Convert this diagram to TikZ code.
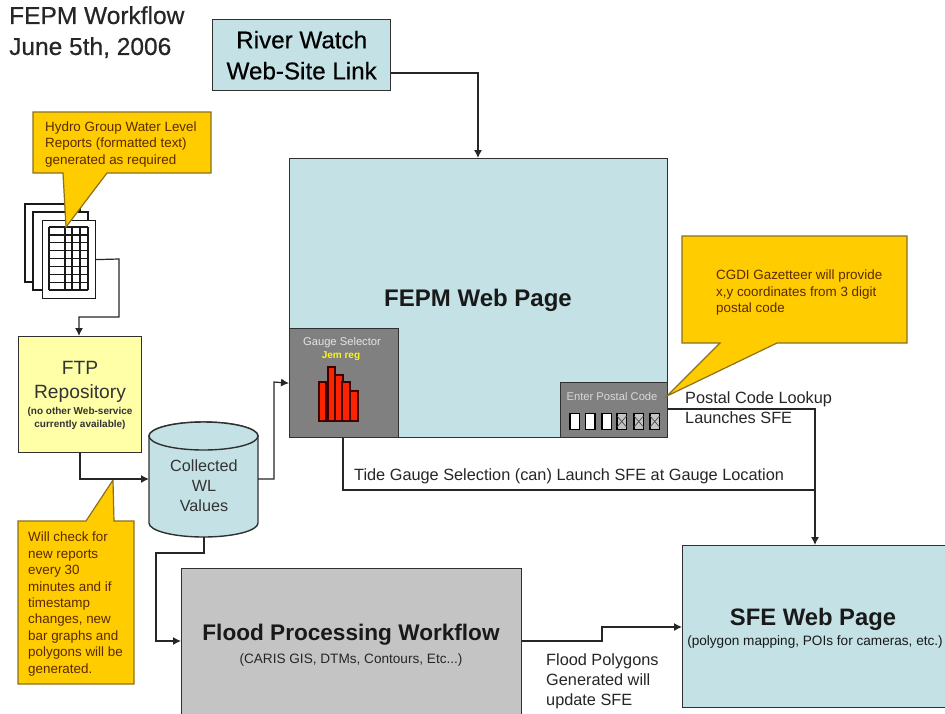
\documentclass[tikz,border=0pt]{standalone}
\usepackage{fontspec}
\setmainfont{Liberation Sans}
\newfontfamily\semibold[FakeBold=0.5]{Liberation Sans}
\usetikzlibrary{arrows.meta,shapes.geometric}
\definecolor{paleblue}{HTML}{C4E2E6}
\definecolor{callout}{HTML}{FFCC00}
\definecolor{calloutedge}{HTML}{8A7020}
\definecolor{callouttext}{HTML}{5A2A00}
\definecolor{paleyellow}{HTML}{FFFFA8}
\definecolor{midgrey}{HTML}{808080}
\definecolor{lightgrey}{HTML}{C4C4C4}
\definecolor{barred}{HTML}{FA2400}
\definecolor{linegrey}{HTML}{303030}
\tikzset{
  box/.style={draw=linegrey,line width=1.4pt,inner sep=0pt,anchor=north west,align=center},
  conn/.style={draw=black!85,line width=1.2pt,-{Latex[length=8pt,width=8pt]}},
  plain/.style={draw=black!85,line width=1.2pt},
  calloutshape/.style={fill=callout,draw=calloutedge,line width=1.2pt,line join=miter},
  small/.style={font=\fontsize{13.4}{16.4}\selectfont,text=callouttext,align=left,anchor=north west,inner sep=0pt},
  lab/.style={font=\fontsize{16.3}{20}\selectfont,align=left,anchor=north west,inner sep=0pt,text=black!85},
  page/.style={draw=black!90,line width=1.2pt,fill=white},
}
\begin{document}
\begin{tikzpicture}[x=1pt,y=-1pt]
\useasboundingbox (0,0) rectangle (945,713);
\fill[white] (0,0) rectangle (945,713);

% title
\node[lab,font=\fontsize{24.5}{31}\selectfont\semibold] (title) at (9,6) {FEPM Workflow\\June 5th, 2006};

% main boxes
\node[box,fill=paleblue,minimum width=178pt,minimum height=71pt,font=\fontsize{24.2}{31}\selectfont\semibold] (river) at (212,19) {River Watch\\Web-Site Link};
\node[box,fill=paleblue,minimum width=378pt,minimum height=279pt] (fepm) at (289,158) {};
\node[font=\fontsize{24}{28}\selectfont\bfseries,text=black!90,inner sep=0pt] (fepmlabel) at (478,300) {FEPM Web Page};
\node[box,fill=midgrey,minimum width=109pt,minimum height=109pt] (gauge) at (289,328) {};
\node[box,fill=midgrey,minimum width=107pt,minimum height=55pt] (postal) at (560,382) {};
\node[box,fill=paleyellow,minimum width=123pt,minimum height=116pt] (ftp) at (18,336) {};
\node[box,fill=lightgrey,minimum width=340pt,minimum height=160pt] (flood) at (181,568) {};
\node[box,fill=paleblue,minimum width=263pt,minimum height=162pt] (sfe) at (682,545) {};

% box texts
\node[font=\fontsize{19.2}{23.5}\selectfont,text=black!80,align=center,inner sep=0pt] (ftptext) at (80,382) {FTP\\Repository};
\node[font=\fontsize{10}{13}\selectfont\bfseries,text=black!80,align=center,inner sep=0pt] (ftpsub) at (80,418) {(no other Web-service\\currently available)};
\node[font=\fontsize{22.6}{28}\selectfont\bfseries,inner sep=0pt,text=black!90] (floodtext) at (351,635) {Flood Processing Workflow};
\node[font=\fontsize{13.6}{15}\selectfont,inner sep=0pt,text=black!85] (floodsub) at (351,660) {(CARIS GIS, DTMs, Contours, Etc...)};
\node[font=\fontsize{23.8}{28}\selectfont\bfseries,inner sep=0pt,text=black!90] (sfetext) at (813,619) {SFE Web Page};
\node[font=\fontsize{13.6}{14}\selectfont,inner sep=0pt,text=black!90] (sfesub) at (815,642) {(polygon mapping, POIs for cameras, etc.)};

% cylinder
\path[fill=paleblue,draw=linegrey,line width=1.4pt] (149,436) -- (149,523) arc[start angle=180,end angle=0,x radius=54.5pt,y radius=-14pt] -- (258,436) arc[start angle=0,end angle=180,x radius=54.5pt,y radius=14pt] -- cycle;
\draw[draw=linegrey,line width=1.4pt,fill=paleblue] (203.5,436) ellipse[x radius=54.5pt,y radius=14pt];
\coordinate (cylw) at (149,479);
\coordinate (cyle) at (258,479);
\coordinate (cyls) at (204,537);
\node[font=\fontsize{16.2}{20}\selectfont,align=center,inner sep=0pt,text=black!80] (cyltext) at (204,486) {Collected\\WL\\Values};

% document stack
\draw[page] (25,204) rectangle (80,282);
\draw[page] (33,212) rectangle (88,290);
\node[page,anchor=north west,minimum width=53pt,minimum height=78pt,inner sep=0pt] (doc) at (42,220) {};
\foreach \yy in {227,234.9,242.8,250.6,258.5,266.4,274.2,282.1,290}
  \draw[draw=black!90,line width=1.2pt] (49,\yy) -- (88,\yy);
\foreach \xx in {49,65,72,80,88}
  \draw[draw=black!90,line width=1.2pt] (\xx,227) -- (\xx,290);

% callouts
\draw[calloutshape] (33,112) -- (211,112) -- (211,173) -- (107,173) -- (66,227) -- (63,173) -- (33,173) -- cycle;
\node[small] (c1) at (45,121.5) {Hydro Group Water Level\\Reports (formatted text)\\generated as required};
\draw[calloutshape] (18,521) -- (86,521) -- (113,480) -- (114,521) -- (134,521) -- (134,684) -- (18,684) -- cycle;
\node[small] (c2) at (28,532) {Will check for\\new reports\\every 30\\minutes and if\\timestamp\\changes, new\\bar graphs and\\polygons will be\\generated.};
\draw[calloutshape] (682,236) -- (907,236) -- (907,343) -- (777,343) -- (667,396) -- (720,343) -- (682,343) -- cycle;
\node[small] (c3) at (716,270) {CGDI Gazetteer will provide\\x,y coordinates from 3 digit\\postal code};

% gauge selector
\node[font=\fontsize{11.2}{12}\selectfont,text=white!90!black,inner sep=0pt] (gt) at (342,343) {Gauge Selector};
\node[font=\fontsize{10}{12}\selectfont\bfseries,text=yellow!90!white,inner sep=0pt] (gy) at (341,356) {Jem reg};
\foreach \a/\b/\t in {320/326/382,329/335/367,336/343/375,343/350/382,351/358/391}
  \draw[fill=barred,draw=black!75!red,line width=1.2pt] (\a-1,\t) rectangle (\b,421);

% postal
\node[font=\fontsize{11.2}{12}\selectfont,text=white!85!black,inner sep=0pt] (pt) at (612,396) {Enter Postal Code};
\foreach \a in {570,585.5,602}
  \draw[fill=white,draw=black,line width=1.3pt] (\a,413.5) rectangle (\a+9.5,429.5);
\foreach \a in {617,634,650}{
  \draw[fill=lightgrey,draw=black,line width=1.3pt] (\a,413.5) rectangle (\a+9.5,429.5);
  \draw[draw=black!70,line width=.7pt] (\a,416) -- (\a+9.5,427) (\a+9.5,416) -- (\a,427);
}

% connectors
\draw[conn] (river.east |- 0,73) -- (478,73) -- (fepm.north -| 478,0);
\draw[conn] (doc.east) -- (119,259) -- (119,317) -- (79,317) -- (ftp.north -| 79,0);
\draw[conn] (ftp.south -| 80,0) -- (80,479) -- (cylw);
\draw[conn] (cyle) -- (274,479) -- (274,382) -- (gauge.west);
\draw[conn] (cyls) -- (204,553) -- (156,553) -- (156,641) -- (flood.west |- 0,641);
\draw[plain] (gauge.south -| 343,0) -- (343,490) -- (815,490);
\draw[conn] (postal.east |- 0,409) -- (815,409) -- (sfe.north -| 815,0);
\draw[conn] (flood.east |- 0,641) -- (602,641) -- (602,627) -- (sfe.west |- 0,627);

% labels
\node[lab] (l1) at (685,391) {Postal Code Lookup\\Launches SFE};
\node[lab] (l2) at (354,468) {Tide Gauge Selection (can) Launch SFE at Gauge Location};
\node[lab] (l3) at (546,653) {Flood Polygons\\Generated will\\update SFE};
\end{tikzpicture}
\end{document}
